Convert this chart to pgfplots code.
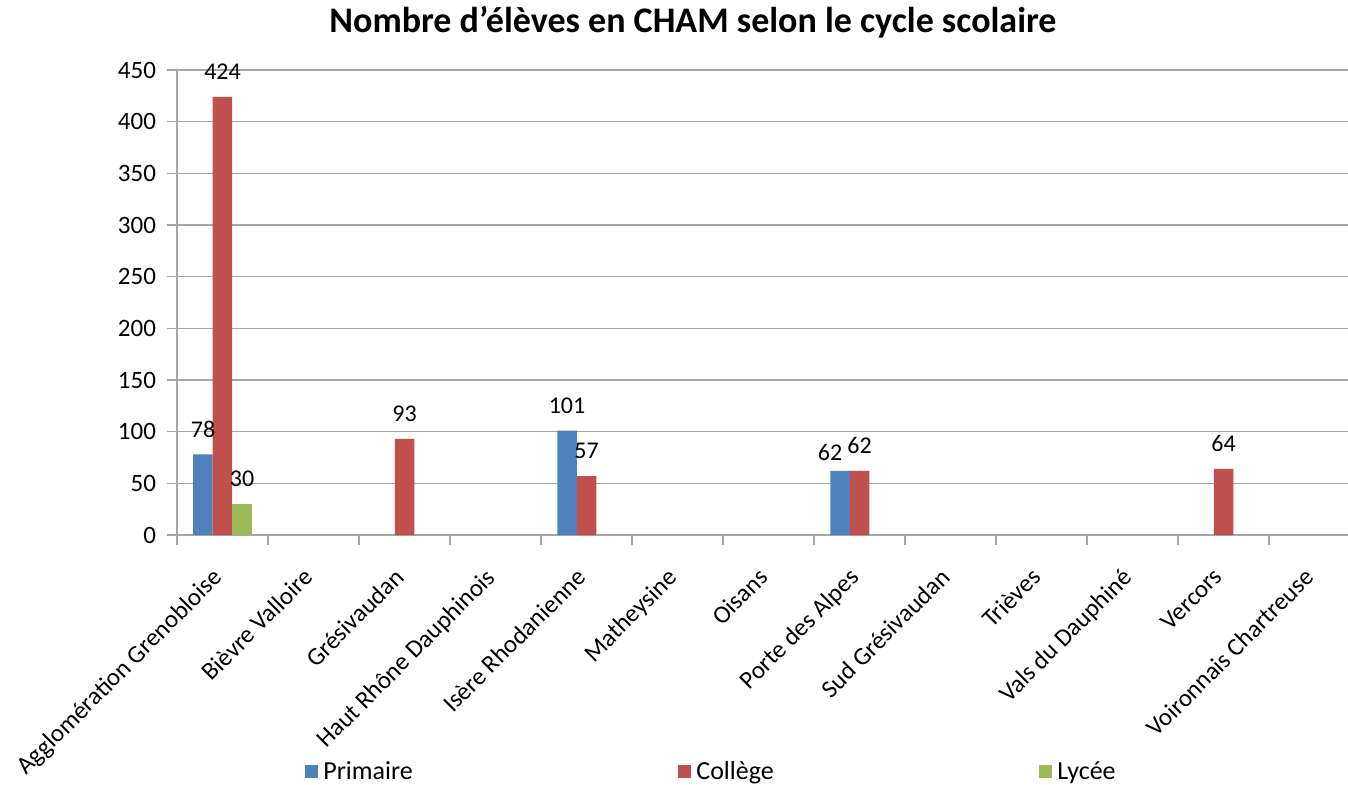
\documentclass[border=0pt]{standalone}
\usepackage{fontspec}
\setmainfont{Carlito}
\usepackage{pgfplots}
\pgfplotsset{compat=1.18}
\definecolor{cprim}{HTML}{4F81BD}
\definecolor{ccoll}{HTML}{C0504D}
\definecolor{clyc}{HTML}{9BBB59}
\definecolor{cgrid}{HTML}{A6A6A6}

\begin{document}
\begin{tikzpicture}
\begin{axis}[
    scale only axis,
    width=591.5pt, height=232.5pt,
    at={(0,0)}, anchor=south west,
    ybar=0pt, bar width=9.75pt,
    xmin=-0.5, xmax=12.5,
    ymin=0, ymax=450,
    ytick={0,50,...,450},
    xtick={0,...,12},
    xticklabels={Agglomération Grenobloise,Bièvre Valloire,Grésivaudan,Haut Rhône Dauphinois,Isère Rhodanienne,Matheysine,Oisans,Porte des Alpes,Sud Grésivaudan,Trièves,Vals du Dauphiné,Vercors,Voironnais Chartreuse},
    minor xtick={-0.5,0.5,...,12.5},
    major x tick style={draw=none},
    minor x tick style={draw=cgrid, line width=0.8pt},
    y tick style={draw=cgrid, line width=0.8pt},
    tick align=outside,
    major tick length=5pt, minor tick length=5pt,
    axis x line*=bottom, axis y line*=left,
    axis line style={draw=cgrid, line width=0.8pt, -},
    ymajorgrids,
    grid style={draw=cgrid, line width=0.8pt},
    yticklabel style={font=\fontsize{12.5}{15}\selectfont, text=black, xshift=-2pt},
    xticklabel style={font=\fontsize{12.5}{15}\selectfont, text=black, rotate=45, anchor=north east, inner sep=1pt, xshift=-10.5pt, yshift=-2.5pt},
    /pgf/number format/assume math mode=true,
    nodes near coords,
    every node near coord/.append style={font=\fontsize{12}{14}\selectfont, text=black, yshift=5pt},
    clip=false,
]
% Primaire
\addplot[fill=cprim, draw=none,
    coordinate style/.condition={\coordindex==2}{xshift=-5pt, yshift=-3.5pt}]
    coordinates {(0,78) (4,101) (7,62)};
% College
\addplot[fill=ccoll, draw=none]
    coordinates {(0,424) (2,93) (4,57) (7,62) (11,64)};
% Lycee
\addplot[fill=clyc, draw=none]
    coordinates {(0,30)};
\end{axis}
% title
\node[anchor=base, font=\fontsize{18}{21}\selectfont\bfseries] at (258pt,251.5pt)
    {Nombre d'élèves en CHAM selon le cycle scolaire};
% legend
\fill[cprim] (64pt,-121.5pt) rectangle ++(6.5pt,6.5pt);
\node[anchor=base west, inner sep=0pt, font=\fontsize{13}{15}\selectfont] at (73pt,-122pt) {Primaire};
\fill[ccoll] (250.5pt,-121.5pt) rectangle ++(6.5pt,6.5pt);
\node[anchor=base west, inner sep=0pt, font=\fontsize{13}{15}\selectfont] at (259.5pt,-122pt) {Collège};
\fill[clyc] (431pt,-121.5pt) rectangle ++(6.5pt,6.5pt);
\node[anchor=base west, inner sep=0pt, font=\fontsize{13}{15}\selectfont] at (440pt,-122pt) {Lycée};
\pgfresetboundingbox
\path[use as bounding box] (-88.5pt,-124.5pt) rectangle (585.5pt,267.5pt);
\end{tikzpicture}
\end{document}
